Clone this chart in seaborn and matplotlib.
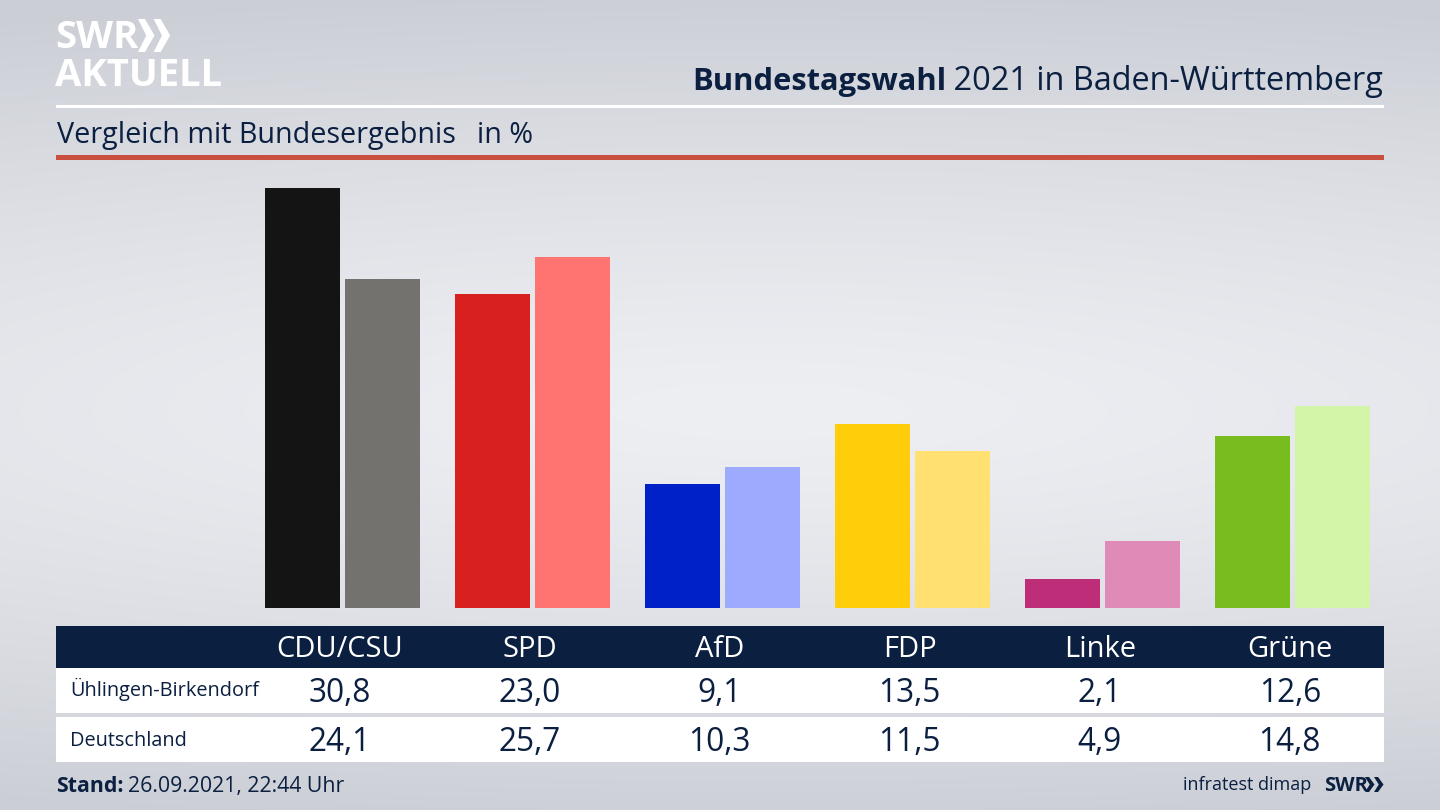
import numpy as np
import pandas as pd
import matplotlib
matplotlib.use("Agg")
import matplotlib.pyplot as plt
from matplotlib.patches import Rectangle, Polygon
import seaborn as sns

parties = ["CDU/CSU", "SPD", "AfD", "FDP", "Linke", "Grüne"]
local_name = "Ühlingen-Birkendorf"
national_name = "Deutschland"
local_values = [30.8, 23.0, 9.1, 13.5, 2.1, 12.6]
national_values = [24.1, 25.7, 10.3, 11.5, 4.9, 14.8]
local_colors = ["#141414", "#d8201e", "#0020c8", "#ffcd0a", "#bd2d78", "#78bc1e"]
national_colors = ["#73726e", "#ff7470", "#9dabff", "#ffe070", "#e08ab8", "#d3f5a8"]

NAVY = "#0b1f40"
W, H = 1440, 810
plt.rcParams["font.family"] = ["Open Sans", "DejaVu Sans"]
sns.set_theme(style="white", rc={"font.family": ["Open Sans", "DejaVu Sans"]})

fig = plt.figure(figsize=(W / 100, H / 100), dpi=100)

# background gradient
bg = fig.add_axes([0, 0, 1, 1], zorder=0)
yy, xx = np.mgrid[0:H, 0:W]
d = np.sqrt(((yy - 410) / 420.0) ** 2 + ((xx - 760) / 2200.0) ** 2)
t = np.clip(d, 0, 1) ** 1.3
light = np.array([238, 239, 243]) / 255
dark = np.array([203, 206, 213]) / 255
img = light[None, None, :] * (1 - t[..., None]) + dark[None, None, :] * t[..., None]
bg.imshow(img, aspect="auto", extent=(0, W, H, 0))
bg.set_xlim(0, W)
bg.set_ylim(H, 0)
bg.axis("off")

# bars
df = pd.DataFrame({
    "party": parties * 2,
    "region": [local_name] * 6 + [national_name] * 6,
    "value": local_values + national_values,
})
ax = fig.add_axes([247.8 / W, 1 - 608 / H, 1140 / W, (608 - 160) / H], zorder=1)
ax.patch.set_alpha(0)
sns.barplot(data=df, x="party", y="value", hue="region", order=parties,
            width=160 / 190, gap=5 / 80, dodge=True, saturation=1,
            legend=False, ax=ax, errorbar=None)
for container, colors in zip(ax.containers, (local_colors, national_colors)):
    for bar, c in zip(container, colors):
        bar.set_facecolor(c)
        bar.set_edgecolor("none")
ax.set_xlim(-0.5, 5.5)
ax.set_ylim(0, 448 / 13.65)
ax.axis("off")

# overlay in pixel coordinates
ov = fig.add_axes([0, 0, 1, 1], zorder=2)
ov.set_xlim(0, W)
ov.set_ylim(H, 0)
ov.axis("off")
ov.patch.set_alpha(0)


def rect(x0, y0, x1, y1, c):
    ov.add_patch(Rectangle((x0, y0), x1 - x0, y1 - y0, facecolor=c, edgecolor="none"))


def chevrons(x, y, h, c, w):
    for dx in (0, w * 0.95):
        ov.add_patch(Polygon([(x + dx, y), (x + dx + w * 0.42, y), (x + dx + w, y + h / 2),
                              (x + dx + w * 0.42, y + h), (x + dx, y + h), (x + dx + w * 0.5, y + h / 2)],
                             closed=True, facecolor=c, edgecolor="none"))


rect(56, 104.5, 1384, 107.5, "#ffffff")
rect(56, 155, 1384, 160, "#c9503f")
rect(56, 626, 1384, 668, NAVY)
rect(56, 668, 1384, 713, "#ffffff")
rect(56, 717, 1384, 762, "#ffffff")

# logo
ov.text(55, 38, "SWR", color="white", fontsize=27.5, fontweight="bold", va="center", ha="left")
chevrons(138, 19, 33, "white", 16.5)
ov.text(55, 76.5, "AKTUELL", color="white", fontsize=27.5, fontweight="bold", va="center", ha="left")

# title
t2 = ov.text(1383, 90, " 2021 in Baden-Württemberg", color=NAVY, fontsize=23.4, ha="right", va="baseline")
fig.canvas.draw()
bb = t2.get_window_extent()
ov.text(bb.x0 + 1, 90, "Bundestagswahl", color=NAVY, fontsize=22.2, fontweight="bold", ha="right", va="baseline")
ov.text(57, 143, "Vergleich mit Bundesergebnis", color=NAVY, fontsize=20.7, ha="left", va="baseline")
ov.text(477, 143, "in %", color=NAVY, fontsize=20.7, ha="left", va="baseline")

# table
for i, p in enumerate(parties):
    px = ax.transData.transform((i, 0))[0] - 3
    ov.text(px, 657, p, color="white", fontsize=21, ha="center", va="baseline")
    ov.text(px, 702, f"{local_values[i]:.1f}".replace(".", ","), color=NAVY, fontsize=22.8, ha="center", va="baseline")
    ov.text(px, 751, f"{national_values[i]:.1f}".replace(".", ","), color=NAVY, fontsize=22.8, ha="center", va="baseline")
ov.text(70, 696, local_name, color=NAVY, fontsize=14.3, ha="left", va="baseline")
ov.text(70, 746, national_name, color=NAVY, fontsize=14.3, ha="left", va="baseline")

# footer
s = ov.text(56, 792, "Stand:", color=NAVY, fontsize=15.3, fontweight="bold", ha="left", va="baseline")
fig.canvas.draw()
ov.text(s.get_window_extent().x1 + 4, 792, "26.09.2021, 22:44 Uhr", color=NAVY, fontsize=15.3, ha="left", va="baseline")
ov.text(1311, 790, "infratest dimap", color=NAVY, fontsize=13, ha="right", va="baseline")
ov.text(1324, 791, "SWR", color=NAVY, fontsize=14.5, fontweight="bold", ha="left", va="baseline")
chevrons(1365, 777, 15, NAVY, 9.5)

fig.savefig("out.png", dpi=100)
